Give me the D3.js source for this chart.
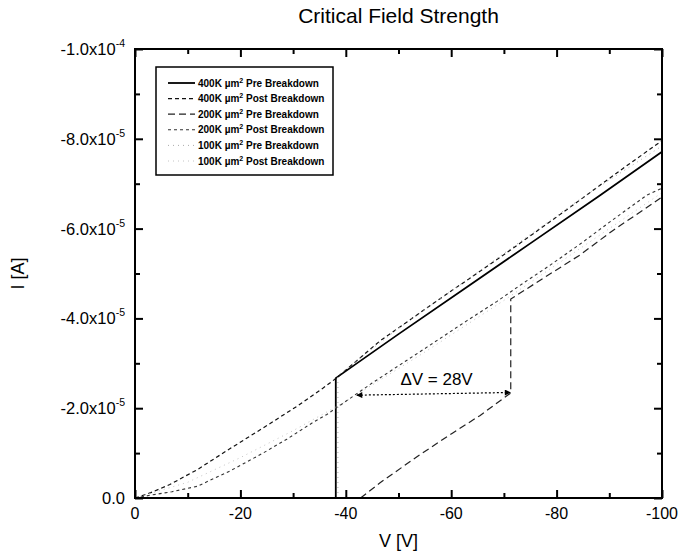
<!DOCTYPE html>
<html>
<head>
<meta charset="utf-8">
<title>Critical Field Strength</title>
<script src="https://cdn.jsdelivr.net/npm/d3@7"></script>
<style>
  body { margin: 0; background: #fff; }
  text { font-family: "Liberation Sans", Arial, sans-serif; fill: #000; }
</style>
</head>
<body>
<script>
// tick values and labels
var xTicks = [0, -20, -40, -60, -80, -100];
var xTickText = ["0", "-20", "-40", "-60", "-80", "-100"];
var xMinor = [-10, -30, -50, -70, -90];
var yTicks = [0, -2e-5, -4e-5, -6e-5, -8e-5, -1e-4];
var yMinor = [-1e-5, -3e-5, -5e-5, -7e-5, -9e-5];
var yTickText = ["0.0", "-2.0x10", "-4.0x10", "-6.0x10", "-8.0x10", "-1.0x10"];
var yTickExp = ["", "-5", "-5", "-5", "-5", "-4"];

// series (V in volts, I in amps)
var names = ["400K", "400K", "200K", "200K", "100K", "100K"];
var kinds = ["Pre Breakdown", "Post Breakdown", "Pre Breakdown", "Post Breakdown", "Pre Breakdown", "Post Breakdown"];

var v400pre = [-38.1, -38.1, -50, -63, -75.5, -88, -100];
var i400pre = [0, -2.67e-5, -3.65e-5, -4.7e-5, -5.71e-5, -6.72e-5, -7.71e-5];

var v400post = [0, -3, -6.6, -11.8, -17.5, -24.3, -30.7, -35.7, -38.1, -46.5, -57.9, -69.3, -81.2, -92.6, -100];
var i400post = [0, -1.2e-6, -3.0e-6, -6.3e-6, -1.06e-5, -1.56e-5, -2.04e-5, -2.45e-5, -2.66e-5, -3.5e-5, -4.44e-5, -5.36e-5, -6.36e-5, -7.34e-5, -7.96e-5];

var v200pre = [-42.8, -46.5, -54, -60.3, -65.5, -71.3, -71.3, -78.2, -84.4, -90.7, -100];
var i200pre = [0, -3.4e-6, -9.6e-6, -1.45e-5, -1.84e-5, -2.34e-5, -4.43e-5, -4.95e-5, -5.41e-5, -5.96e-5, -6.7e-5];

var v200post = [0, -2.8, -7, -11.8, -18, -24.3, -28.8, -33.6, -36.4, -45, -55.4, -63, -68.7, -73.6, -78.7, -84.4, -90.7, -97.2, -100];
var i200post = [0, -6e-7, -1.4e-6, -2.6e-6, -6.0e-6, -1.0e-5, -1.31e-5, -1.67e-5, -1.86e-5, -2.56e-5, -3.36e-5, -3.95e-5, -4.38e-5, -4.78e-5, -5.18e-5, -5.65e-5, -6.2e-5, -6.75e-5, -6.9e-5];

var v100pre = [-38.5, -38.5, -50, -66.6, -73, -85, -100];
var i100pre = [0, -2.73e-5, -3.78e-5, -5.16e-5, -5.7e-5, -6.7e-5, -7.84e-5];

var v100post = [0, -10, -20, -30, -40, -55, -70, -85, -100];
var i100post = [0, -3.5e-6, -9e-6, -1.5e-5, -2.15e-5, -3.25e-5, -4.4e-5, -5.6e-5, -6.8e-5];

// delta V annotation
var annV = [-42.1, -71.2];
var annI = [-2.29e-5, -2.35e-5];
var annText = "\u0394V = 28V";

var seriesV = [v400pre, v400post, v200pre, v200post, v100pre, v100post];
var seriesI = [i400pre, i400post, i200pre, i200post, i100pre, i100post];
var dashes = [null, "4,3", "7,4", "3,3", "1,4", "1,4"];
var strokes = ["#000", "#111", "#222", "#333", "#aaa", "#c4c4c4"];
var widths = [1.8, 1.2, 1.2, 1.1, 1, 1];

var padL = 135, padT = 49, w = 527, h = 449;

var svg = d3.select("body").append("svg")
  .attr("width", 683).attr("height", 559);

var x = d3.scaleLinear().domain([0, -100]).range([0, w]);
var y = d3.scaleLinear().domain([0, -1e-4]).range([h, 0]);

var g = svg.append("g").attr("transform", "translate(" + padL + "," + padT + ")");

// title
svg.append("text").attr("x", padL + w / 2).attr("y", 23)
  .attr("text-anchor", "middle").style("font-size", "21px")
  .text("Critical Field Strength");

// curves
var line = d3.line().x(function(d) { return x(d[0]); }).y(function(d) { return y(d[1]); });
seriesV.forEach(function(vs, k) {
  var pts = vs.map(function(v, j) { return [v, seriesI[k][j]]; });
  g.append("path").datum(pts)
    .attr("d", line)
    .attr("fill", "none")
    .attr("stroke", strokes[k])
    .attr("stroke-width", widths[k])
    .attr("stroke-dasharray", dashes[k]);
});

// axes: major + minor ticks inward on all four sides
function tickAxis(gen, vals, size, tx) {
  var a = g.append("g").attr("transform", tx)
    .call(gen.tickValues(vals).tickSizeInner(size).tickSizeOuter(0).tickFormat(""));
  a.select(".domain").remove();
  a.selectAll("line").attr("stroke", "#000").attr("stroke-width", 2);
  return a;
}
tickAxis(d3.axisBottom(x), xTicks, -8, "translate(0," + h + ")");
tickAxis(d3.axisBottom(x), xMinor, -5, "translate(0," + h + ")");
tickAxis(d3.axisTop(x), xTicks, -8, "translate(0,0)");
tickAxis(d3.axisTop(x), xMinor, -5, "translate(0,0)");
tickAxis(d3.axisLeft(y), yTicks, -8, "translate(0,0)");
tickAxis(d3.axisLeft(y), yMinor, -5, "translate(0,0)");
tickAxis(d3.axisRight(y), yTicks, -8, "translate(" + w + ",0)");
tickAxis(d3.axisRight(y), yMinor, -5, "translate(" + w + ",0)");

g.append("rect").attr("width", w).attr("height", h)
  .attr("fill", "none").attr("stroke", "#000").attr("stroke-width", 2);

// tick labels
g.selectAll(".xl").data(xTicks).enter().append("text")
  .attr("x", function(d) { return x(d); }).attr("y", h + 21)
  .attr("text-anchor", "middle").style("font-size", "16px")
  .text(function(d, i) { return xTickText[i]; });

var yl = g.selectAll(".yl").data(yTicks).enter().append("text")
  .attr("x", -10).attr("y", function(d) { return y(d) + 6; })
  .attr("text-anchor", "end").style("font-size", "16.5px");
yl.append("tspan").text(function(d, i) { return yTickText[i]; });
yl.append("tspan").attr("dy", -8).style("font-size", "10.5px")
  .text(function(d, i) { return yTickExp[i]; });

// axis titles
svg.append("text").attr("x", padL + w / 2).attr("y", 547)
  .attr("text-anchor", "middle").style("font-size", "18px").text("V [V]");
svg.append("text")
  .attr("transform", "translate(24," + (padT + h / 2) + ") rotate(-90)")
  .attr("text-anchor", "middle").style("font-size", "18px").text("I [A]");

// delta V annotation
var defs = svg.append("defs");
defs.append("marker").attr("id", "ah").attr("viewBox", "0 0 10 10")
  .attr("refX", 9).attr("refY", 5).attr("markerWidth", 7).attr("markerHeight", 5)
  .attr("orient", "auto-start-reverse")
  .append("path").attr("d", "M0,0 L10,5 L0,10 Z").attr("fill", "#000");
g.append("line")
  .attr("x1", x(annV[0])).attr("y1", y(annI[0]))
  .attr("x2", x(annV[1])).attr("y2", y(annI[1]))
  .attr("stroke", "#000").attr("stroke-width", 1.2).attr("stroke-dasharray", "2,2")
  .attr("marker-start", "url(#ah)").attr("marker-end", "url(#ah)");
g.append("text")
  .attr("x", x((annV[0] + annV[1]) / 2) + 3).attr("y", y(annI[0]) - 10)
  .attr("text-anchor", "middle").style("font-size", "17px").text(annText);

// legend
var lg = svg.append("g").attr("transform", "translate(156,67)");
lg.append("rect").attr("width", 177).attr("height", 108)
  .attr("fill", "#fff").attr("stroke", "#000").attr("stroke-width", 1.5);
names.forEach(function(n, k) {
  var ry = 16 + k * 15.6;
  lg.append("line").attr("x1", 12).attr("x2", 39).attr("y1", ry).attr("y2", ry)
    .attr("stroke", strokes[k]).attr("stroke-width", widths[k])
    .attr("stroke-dasharray", dashes[k]);
  var t = lg.append("text").attr("x", 42).attr("y", ry + 3.5)
    .style("font-size", "10px").style("font-weight", "bold");
  t.append("tspan").text(n + " \u00b5m");
  t.append("tspan").attr("dy", -4).style("font-size", "7px").text("2");
  t.append("tspan").attr("dy", 4).text(" " + kinds[k]);
});
</script>
</body>
</html>
